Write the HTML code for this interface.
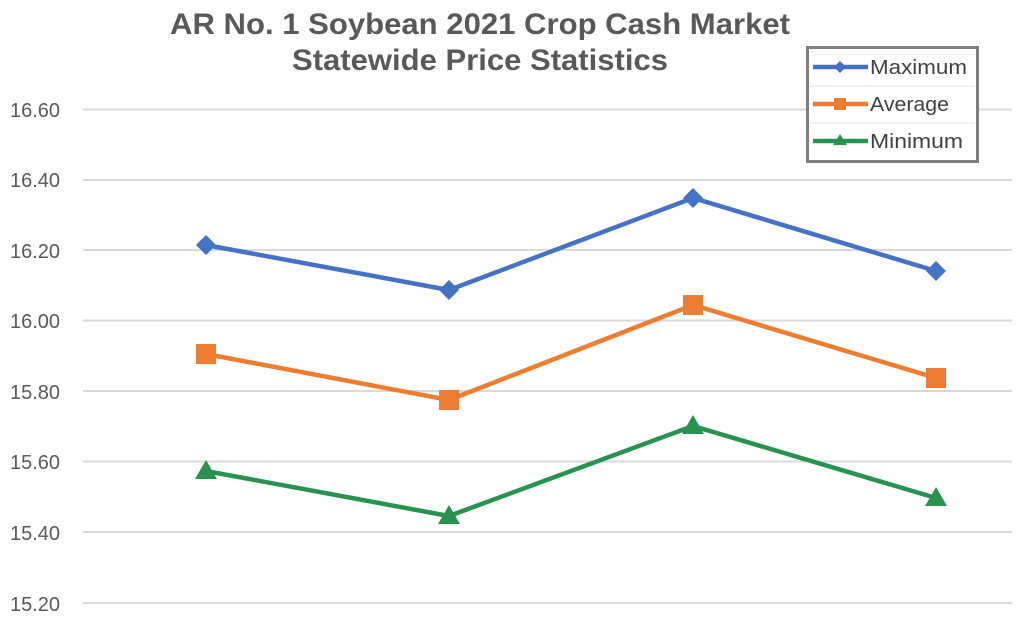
<!DOCTYPE html>
<html><head><meta charset="utf-8"><style>body{margin:0;background:#fff}svg{display:block}</style></head><body>
<svg width="1024" height="630" xmlns="http://www.w3.org/2000/svg" font-family="Liberation Sans, sans-serif">
<rect width="1024" height="630" fill="#fff"/>
<text x="480" y="34" text-anchor="middle" font-size="30" font-weight="bold" fill="#595959" textLength="620" lengthAdjust="spacingAndGlyphs">AR No. 1 Soybean 2021 Crop Cash Market</text>
<text x="480" y="70" text-anchor="middle" font-size="30" font-weight="bold" fill="#595959" textLength="376" lengthAdjust="spacingAndGlyphs">Statewide Price Statistics</text>
<g stroke="#d9d9d9" stroke-width="2">
<line x1="83" x2="1012" y1="109.5" y2="109.5"/><line x1="83" x2="1012" y1="180" y2="180"/><line x1="83" x2="1012" y1="250" y2="250"/><line x1="83" x2="1012" y1="320.5" y2="320.5"/><line x1="83" x2="1012" y1="391" y2="391"/><line x1="83" x2="1012" y1="461.5" y2="461.5"/><line x1="83" x2="1012" y1="532" y2="532"/><line x1="83" x2="1012" y1="603" y2="603"/>
</g>
<g font-size="20" fill="#595959">
<text x="10" y="117">16.60</text><text x="10" y="187">16.40</text><text x="10" y="258">16.20</text><text x="10" y="328">16.00</text><text x="10" y="399">15.80</text><text x="10" y="469">15.60</text><text x="10" y="540">15.40</text><text x="10" y="611">15.20</text>
</g>
<polyline points="206,245 449,290 693,198 936,271" fill="none" stroke="#4472c4" stroke-width="4.5"/>
<g fill="#4472c4"><path d="M206,235 l10,10 -10,10 -10,-10z"/><path d="M449,280 l10,10 -10,10 -10,-10z"/><path d="M693,188 l10,10 -10,10 -10,-10z"/><path d="M936,261 l10,10 -10,10 -10,-10z"/></g>
<polyline points="206,354 449,400 693,305 936,378" fill="none" stroke="#ed7d31" stroke-width="4.5"/>
<g fill="#ed7d31"><rect x="196" y="344" width="20" height="20"/><rect x="439" y="390" width="20" height="20"/><rect x="683" y="295" width="20" height="20"/><rect x="926" y="368" width="20" height="20"/></g>
<polyline points="206,471 449,516 693,426 936,498" fill="none" stroke="#28924f" stroke-width="4.5"/>
<g fill="#28924f"><path d="M206,460 l11,19 h-22z"/><path d="M449,505 l11,19 h-22z"/><path d="M693,415 l11,19 h-22z"/><path d="M936,487 l11,19 h-22z"/></g>
<rect x="807.5" y="47.5" width="170" height="114" fill="#fff" stroke="#7f7f7f" stroke-width="3"/>
<g stroke="#e0e0e0" stroke-width="1"><line x1="810" x2="975" y1="86" y2="86"/><line x1="810" x2="975" y1="123" y2="123"/></g>
<line x1="813" x2="868" y1="67" y2="67" stroke="#4472c4" stroke-width="4.5"/><path d="M840,61 l6,6 -6,6 -6,-6z" fill="#4472c4"/>
<line x1="813" x2="868" y1="104" y2="104" stroke="#ed7d31" stroke-width="4.5"/><rect x="834" y="98" width="12" height="12" fill="#ed7d31"/>
<line x1="813" x2="868" y1="141" y2="141" stroke="#28924f" stroke-width="4.5"/><path d="M840,134 l7,11 h-14z" fill="#28924f"/>
<g font-size="20" fill="#404040"><text x="870" y="74" textLength="97" lengthAdjust="spacingAndGlyphs">Maximum</text><text x="870" y="111" textLength="79" lengthAdjust="spacingAndGlyphs">Average</text><text x="870" y="148" textLength="93" lengthAdjust="spacingAndGlyphs">Minimum</text></g>
</svg>
</body></html>
